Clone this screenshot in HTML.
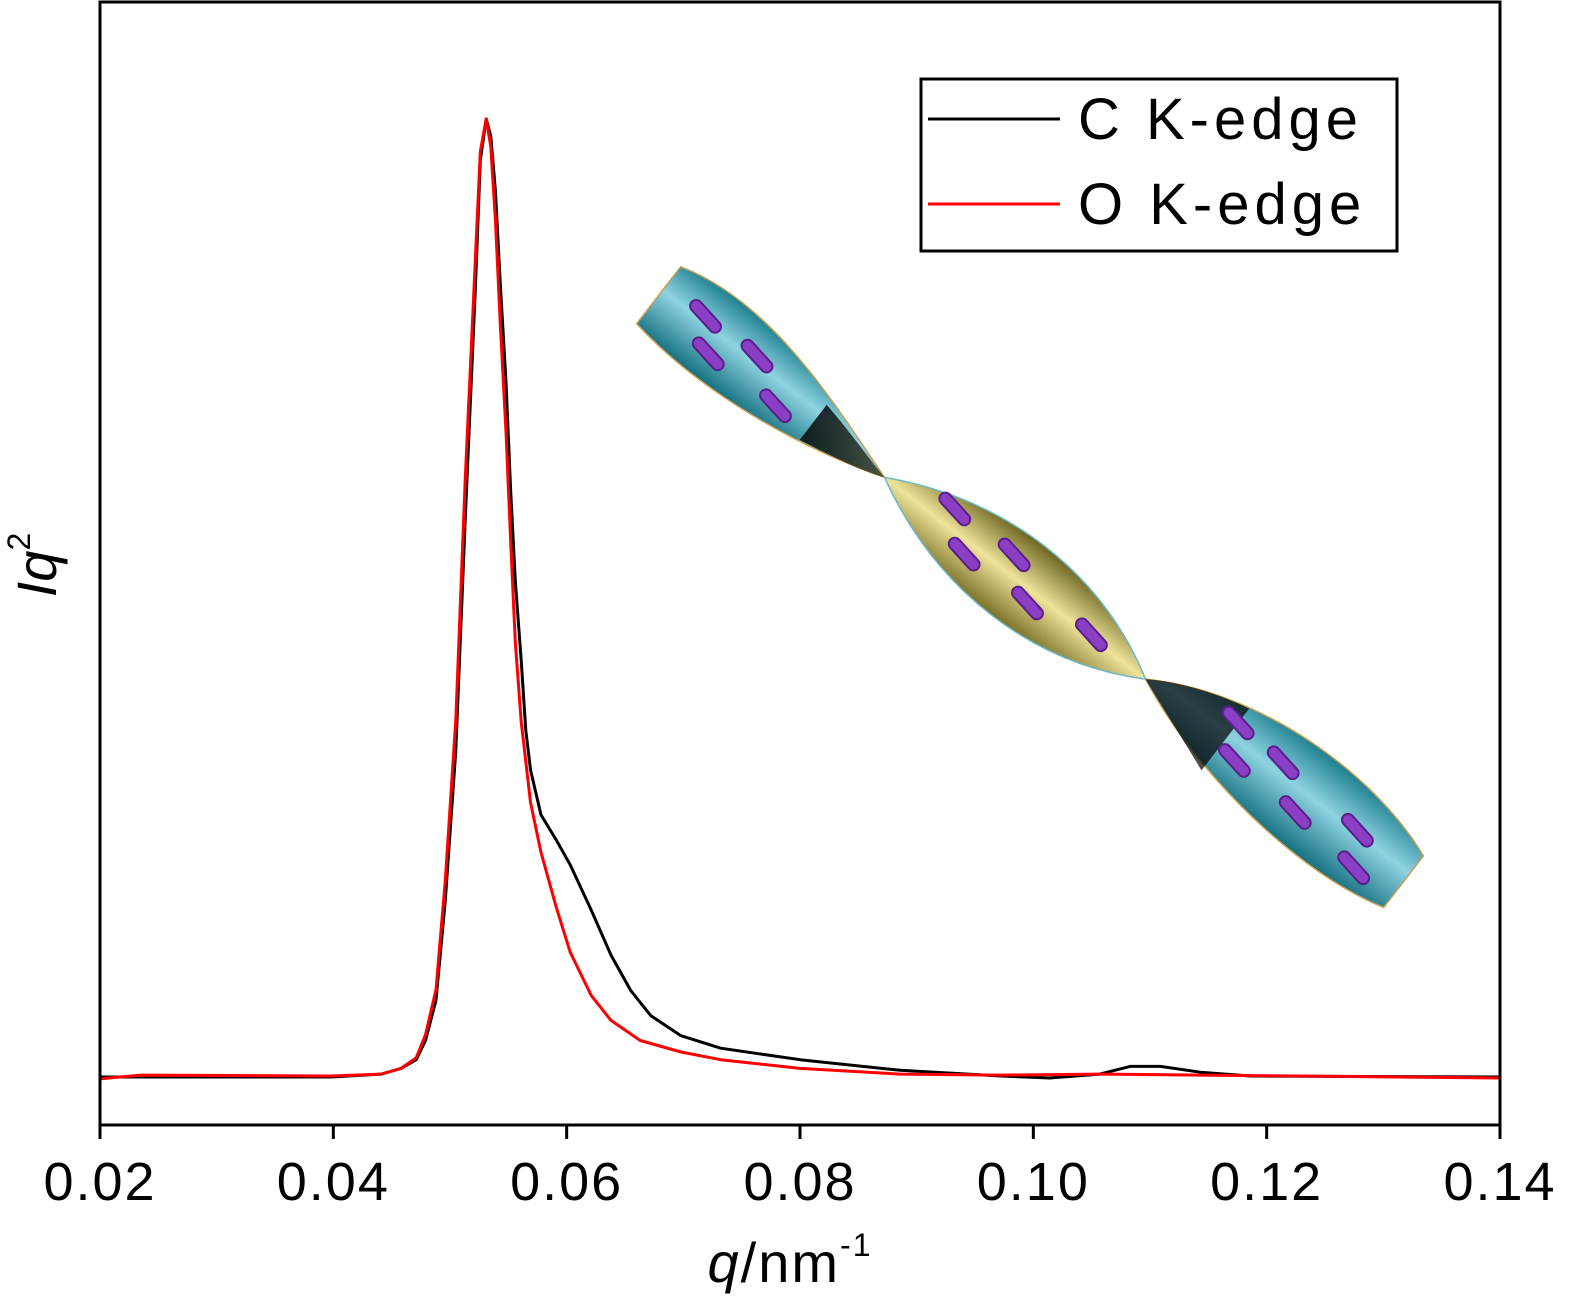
<!DOCTYPE html>
<html><head><meta charset="utf-8"><style>
html,body{margin:0;padding:0;background:#fff;overflow:hidden}
svg{display:block;font-family:"Liberation Sans",Arial,sans-serif}
</style></head><body>
<svg id="chart" width="1573" height="1301" viewBox="0 0 1573 1301">
<defs>
<linearGradient id="teal" x1="0" y1="0" x2="0" y2="1">
<stop offset="0" stop-color="#1d7f8f"/><stop offset="0.45" stop-color="#8fd3e2"/><stop offset="1" stop-color="#157080"/></linearGradient>
<linearGradient id="yel" x1="0" y1="0" x2="0" y2="1">
<stop offset="0" stop-color="#6b6420"/><stop offset="0.5" stop-color="#efe39a"/><stop offset="1" stop-color="#7a7026"/></linearGradient>
<linearGradient id="dark" x1="0" y1="0" x2="1" y2="0">
<stop offset="0" stop-color="#000"/><stop offset="1" stop-color="#3a3a20"/></linearGradient>
</defs>
<g id="inset" transform="translate(655,300) rotate(37.7)">
<path d="M0,-42 C90,-70 200,-30 290,0 C200,30 90,45 0,30 Z" fill="url(#teal)" stroke="#c9a050" stroke-width="1.5"/>
<path d="M290,0 C400,-58 520,-58 620,0 C520,58 400,58 290,0 Z" fill="url(#yel)" stroke="#6bb8c8" stroke-width="1.5"/>
<path d="M620,0 C720,-62 860,-65 948,-30 L948,35 C860,60 720,45 620,0 Z" fill="url(#teal)" stroke="#c9a050" stroke-width="1.5"/>
<path d="M200,-22 C240,-14 270,-4 290,0 C270,8 240,15 200,22 Z" fill="url(#dark)" opacity="0.8"/>
<path d="M620,0 C650,-20 690,-34 720,-40 L720,38 C690,26 650,12 620,0Z" fill="#000" opacity="0.7"/>
<g fill="#8a3fc4" stroke="#5a1f8a" stroke-width="2">
<rect x="30" y="-24" width="40" height="12" rx="6" transform="rotate(10 50 -18)"/>
<rect x="95" y="-24" width="40" height="12" rx="6" transform="rotate(10 115 -18)"/>
<rect x="55" y="4" width="40" height="12" rx="6" transform="rotate(10 75 10)"/>
<rect x="140" y="4" width="40" height="12" rx="6" transform="rotate(10 160 10)"/>
<rect x="345" y="-24" width="40" height="12" rx="6" transform="rotate(10 365 -18)"/>
<rect x="420" y="-24" width="40" height="12" rx="6" transform="rotate(10 440 -18)"/>
<rect x="380" y="6" width="40" height="12" rx="6" transform="rotate(10 400 12)"/>
<rect x="460" y="6" width="40" height="12" rx="6" transform="rotate(10 480 12)"/>
<rect x="530" y="-8" width="40" height="12" rx="6" transform="rotate(10 550 -2)"/>
<rect x="700" y="-28" width="40" height="12" rx="6" transform="rotate(10 720 -22)"/>
<rect x="760" y="-24" width="40" height="12" rx="6" transform="rotate(10 780 -18)"/>
<rect x="720" y="4" width="40" height="12" rx="6" transform="rotate(10 740 10)"/>
<rect x="800" y="8" width="40" height="12" rx="6" transform="rotate(10 820 14)"/>
<rect x="860" y="-16" width="40" height="12" rx="6" transform="rotate(10 880 -10)"/>
<rect x="880" y="16" width="40" height="12" rx="6" transform="rotate(10 900 22)"/>
</g>
</g>
<g id="plot"></g>
<rect x="100" y="2" width="1400" height="1123" fill="none" stroke="#000" stroke-width="3"/>
<g>
<rect x="921" y="79" width="476" height="172" fill="#fff" stroke="#000" stroke-width="3"/>
<line x1="928" y1="119" x2="1060" y2="119" stroke="#000" stroke-width="3"/>
<text x="1078" y="139" font-size="58" letter-spacing="5">C K-edge</text>
<line x1="928" y1="204" x2="1060" y2="204" stroke="#f00" stroke-width="3"/>
<text x="1078" y="224" font-size="58" letter-spacing="5">O K-edge</text>
</g>
<text x="790" y="1282" font-size="56" letter-spacing="2" text-anchor="middle"><tspan font-style="italic">q</tspan>/nm<tspan font-size="32" dy="-26">-1</tspan></text>
<text transform="translate(56,565) rotate(-90)" font-size="56" text-anchor="middle"><tspan font-style="italic">Iq</tspan><tspan font-size="32" dy="-26">2</tspan></text>
</svg>
<script>
const xTicks=[0.02,0.04,0.06,0.08,0.10,0.12,0.14];
const xTickLabels=["0.02","0.04","0.06","0.08","0.10","0.12","0.14"];
const cQ=[0.0200,0.0398,0.0441,0.0458,0.0471,0.0479,0.0488,0.0496,0.0505,0.0513,0.0522,0.0526,0.0531,0.0535,0.0539,0.0543,0.0548,0.0552,0.0556,0.0561,0.0565,0.0569,0.0578,0.0591,0.0603,0.0621,0.0638,0.0655,0.0672,0.0698,0.0732,0.0800,0.0886,0.0972,0.1014,0.1057,0.1083,0.1109,0.1143,0.1186,0.1400];
const cVal=[0,0,0.3,0.9,1.8,3.8,8,18.4,34,58,83,95.5,99.8,98,92.2,82.8,72.4,61,51.7,43.4,36.1,32,27.3,24.7,22.1,17.4,12.7,9,6.4,4.3,3,1.8,0.7,0.1,-0.1,0.3,1.1,1.1,0.5,0.1,0];
const oQ=[0.0200,0.0235,0.0398,0.0441,0.0458,0.0471,0.0479,0.0488,0.0496,0.0505,0.0513,0.0522,0.0526,0.0531,0.0535,0.0539,0.0543,0.0548,0.0552,0.0556,0.0561,0.0569,0.0578,0.0591,0.0603,0.0621,0.0638,0.0663,0.0698,0.0732,0.0800,0.0886,0.0972,0.1057,0.1143,0.1229,0.1400];
const oVal=[-0.2,0.2,0.1,0.3,0.9,2,4.4,9.1,20.5,37.2,62.2,86,96.4,99.8,96.9,89.1,78.6,67.2,55.7,45.3,37,28.6,23.4,17.7,13,8.5,5.9,3.8,2.6,1.8,0.9,0.3,0.2,0.3,0.2,0.1,-0.1];
const NS='http://www.w3.org/2000/svg';
function xs(q){return 100+(q-0.02)/0.12*1400;}
function ys(v){return 1077-v*9.6;}
const g=document.getElementById('plot');
function line(qs,vs,color,name){
  const p=document.createElementNS(NS,'path');
  let d='';
  for(let i=0;i<qs.length;i++){d+=(i?'L':'M')+xs(qs[i]).toFixed(1)+','+ys(vs[i]).toFixed(1);}
  p.setAttribute('d',d);p.setAttribute('fill','none');p.setAttribute('stroke',color);
  p.setAttribute('stroke-width','3');p.setAttribute('stroke-linejoin','round');
  
  
  g.appendChild(p);
}
line(cQ,cVal,'#000','series-c-k-edge');
line(oQ,oVal,'#f00','series-o-k-edge');
xTicks.forEach((t,i)=>{
  const l=document.createElementNS(NS,'line');
  l.setAttribute('x1',xs(t));l.setAttribute('x2',xs(t));l.setAttribute('y1',1125);l.setAttribute('y2',1139);
  l.setAttribute('stroke','#000');l.setAttribute('stroke-width','3');
  
  
  g.appendChild(l);
  const tx=document.createElementNS(NS,'text');
  tx.setAttribute('x',xs(t));tx.setAttribute('y',1200);tx.setAttribute('font-size','54');
  tx.setAttribute('letter-spacing','2');
  tx.setAttribute('text-anchor','middle');tx.textContent=xTickLabels[i];
  
  
  g.appendChild(tx);
});
</script>
</body></html>
